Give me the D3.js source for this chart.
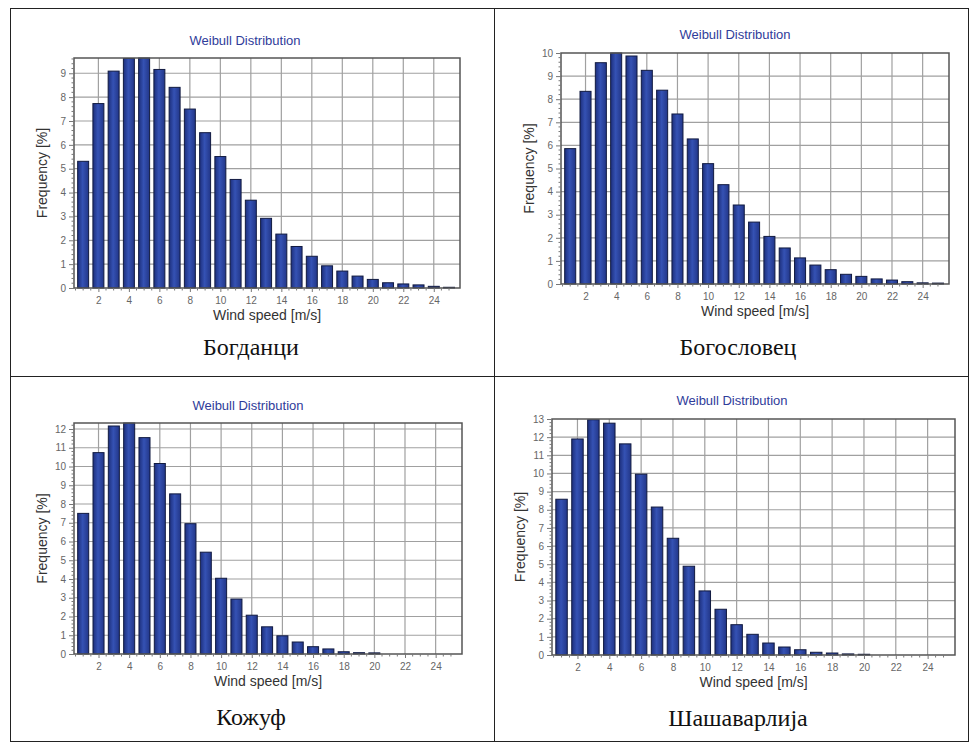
<!DOCTYPE html>
<html>
<head>
<meta charset="utf-8">
<script src="https://cdn.jsdelivr.net/npm/d3@7"></script>
<style>
  body { margin: 0; background: #fff; }
  svg { display: block; }
</style>
</head>
<body>
<div id="vis"></div>
<script>
// Declare constants for frame
const FRAME_WIDTH = 970;
const FRAME_HEIGHT = 742;

// wind speed classes (m/s)
const SPEEDS = [1, 2, 3, 4, 5, 6, 7, 8, 9, 10, 11, 12, 13, 14, 15, 16, 17, 18, 19, 20, 21, 22, 23, 24, 25];

// frequency [%] per station
const BOGDANCI = [5.31, 7.73, 9.09, 9.62, 9.64, 9.16, 8.41, 7.50, 6.51, 5.51, 4.55, 3.68, 2.92, 2.26, 1.74, 1.33, 0.93, 0.71, 0.50, 0.36, 0.22, 0.17, 0.13, 0.07, 0.03];
const BOGOSLOVEC = [5.86, 8.34, 9.58, 10.0, 9.87, 9.25, 8.39, 7.36, 6.28, 5.21, 4.30, 3.42, 2.68, 2.06, 1.56, 1.13, 0.82, 0.62, 0.42, 0.33, 0.22, 0.17, 0.10, 0.05, 0.04];
const KOZHUF = [7.50, 10.74, 12.16, 12.32, 11.54, 10.16, 8.54, 6.95, 5.43, 4.04, 2.93, 2.07, 1.45, 0.97, 0.64, 0.39, 0.27, 0.12, 0.07, 0.06, 0, 0, 0, 0, 0];
const SHASHAVARLIJA = [8.58, 11.90, 12.96, 12.77, 11.63, 9.96, 8.15, 6.43, 4.89, 3.53, 2.52, 1.67, 1.14, 0.66, 0.44, 0.29, 0.15, 0.11, 0.06, 0.04, 0, 0, 0, 0, 0];

const STATIONS = ["Богданци", "Богословец", "Кожуф", "Шашаварлија"];
const SERIES = [BOGDANCI, BOGOSLOVEC, KOZHUF, SHASHAVARLIJA];
const X_TICKS = [2, 4, 6, 8, 10, 12, 14, 16, 18, 20, 22, 24];
const Y_MAX = [9.64, 10, 12.32, 13];

// where each chart sits inside the table
const PANELS = [
  {left: 74,  right: 460, top: 58,  bottom: 288, titleX: 245, titleY: 45,  nameX: 251, nameY: 355},
  {left: 561, right: 949, top: 53,  bottom: 284, titleX: 735, titleY: 39,  nameX: 738, nameY: 355},
  {left: 74,  right: 462, top: 423, bottom: 654, titleX: 248, titleY: 410, nameX: 251, nameY: 725},
  {left: 552, right: 955, top: 419, bottom: 655, titleX: 732, titleY: 405, nameX: 738, nameY: 726}
];

const SANS = "Liberation Sans, Arial, sans-serif";

const FRAME = d3.select("#vis")
  .append("svg")
    .attr("width", FRAME_WIDTH)
    .attr("height", FRAME_HEIGHT);

// bar gradient for the 3D look
const grad = FRAME.append("defs").append("linearGradient")
    .attr("id", "barFill")
    .attr("x1", "0%").attr("x2", "100%");
grad.append("stop").attr("offset", "0%").attr("stop-color", "#1d2f7c");
grad.append("stop").attr("offset", "45%").attr("stop-color", "#3552b4");
grad.append("stop").attr("offset", "100%").attr("stop-color", "#223688");

// table lines
FRAME.append("rect")
    .attr("x", 10.5).attr("y", 8.5)
    .attr("width", 958).attr("height", 733)
    .attr("fill", "none").attr("stroke", "#222").attr("stroke-width", 1);
FRAME.append("line")
    .attr("x1", 494.5).attr("x2", 494.5).attr("y1", 8).attr("y2", 742)
    .attr("stroke", "#222");
FRAME.append("line")
    .attr("x1", 10).attr("x2", 969).attr("y1", 376.5).attr("y2", 376.5)
    .attr("stroke", "#222");

PANELS.forEach((p, i) => {
  const data = SPEEDS.map((s, k) => ({speed: s, freq: SERIES[i][k]}));

  const X_SCALE = d3.scaleLinear()
      .domain([0.4, 25.72])
      .range([p.left, p.right]);
  const Y_SCALE = d3.scaleLinear()
      .domain([0, Y_MAX[i]])
      .range([p.bottom, p.top]);

  const yTicks = d3.range(0, Math.floor(Y_MAX[i]) + 1);
  const g = FRAME.append("g");

  // plot background
  g.append("rect")
      .attr("x", p.left).attr("y", p.top)
      .attr("width", p.right - p.left).attr("height", p.bottom - p.top)
      .attr("fill", "#fff");

  // grid lines
  g.append("g").selectAll("line")
    .data(yTicks.filter(t => t > 0 && Y_SCALE(t) > p.top + 0.5))
    .enter().append("line")
      .attr("x1", p.left).attr("x2", p.right)
      .attr("y1", d => Y_SCALE(d)).attr("y2", d => Y_SCALE(d))
      .attr("stroke", "#a0a0a0").attr("stroke-width", 1.2);
  g.append("g").selectAll("line")
    .data(X_TICKS)
    .enter().append("line")
      .attr("x1", d => X_SCALE(d)).attr("x2", d => X_SCALE(d))
      .attr("y1", p.top).attr("y2", p.bottom)
      .attr("stroke", "#a0a0a0").attr("stroke-width", 1.2);

  // bars
  const bw = (X_SCALE(1) - X_SCALE(0)) * 0.72;
  g.append("g").selectAll("rect")
    .data(data.filter(d => d.freq > 0))
    .enter().append("rect")
      .attr("x", d => X_SCALE(d.speed) - bw / 2)
      .attr("y", d => Y_SCALE(d.freq))
      .attr("width", bw)
      .attr("height", d => p.bottom - Y_SCALE(d.freq))
      .attr("fill", "url(#barFill)")
      .attr("stroke", "#111a40")
      .attr("stroke-width", 1);

  // plot border
  g.append("rect")
      .attr("x", p.left).attr("y", p.top)
      .attr("width", p.right - p.left).attr("height", p.bottom - p.top)
      .attr("fill", "none").attr("stroke", "#555").attr("stroke-width", 1.5);

  // x axis
  const xAxis = g.append("g")
      .attr("transform", "translate(0," + p.bottom + ")")
      .call(d3.axisBottom(X_SCALE).tickValues(X_TICKS).tickSize(4).tickPadding(5).tickFormat(d3.format("d")));
  xAxis.append("g").selectAll("line")
    .data(d3.range(1, 51).map(v => v / 2).filter(v => X_TICKS.indexOf(v) < 0))
    .enter().append("line")
      .attr("x1", d => X_SCALE(d)).attr("x2", d => X_SCALE(d))
      .attr("y1", 0).attr("y2", 2.5)
      .attr("stroke", "#777");

  // y axis
  const yAxis = g.append("g")
      .attr("transform", "translate(" + p.left + ",0)")
      .call(d3.axisLeft(Y_SCALE).tickValues(yTicks).tickSize(5).tickPadding(3).tickFormat(d3.format("d")));
  yAxis.append("g").selectAll("line")
    .data(d3.range(0, Math.floor(Y_MAX[i] * 5) + 1).map(v => v / 5).filter(v => Math.abs(v - Math.round(v)) > 0.01))
    .enter().append("line")
      .attr("x1", -2.5).attr("x2", 0)
      .attr("y1", d => Y_SCALE(d)).attr("y2", d => Y_SCALE(d))
      .attr("stroke", "#777");

  [xAxis, yAxis].forEach(a => {
    a.select(".domain").remove();
    a.selectAll(".tick line").attr("stroke", "#777");
    a.selectAll(".tick text")
      .attr("fill", "#666")
      .attr("font-family", SANS)
      .attr("font-size", "10px");
  });

  // title
  g.append("text")
      .attr("x", p.titleX).attr("y", p.titleY)
      .attr("text-anchor", "middle")
      .attr("font-family", SANS)
      .attr("font-size", "13px")
      .attr("fill", "#2f3c9a")
      .text("Weibull Distribution");

  // axis labels
  g.append("text")
      .attr("x", (p.left + p.right) / 2).attr("y", p.bottom + 32)
      .attr("text-anchor", "middle")
      .attr("font-family", SANS)
      .attr("font-size", "14px")
      .attr("fill", "#333")
      .text("Wind speed [m/s]");
  g.append("text")
      .attr("transform", "translate(" + (p.left - 27) + "," + ((p.top + p.bottom) / 2) + ") rotate(-90)")
      .attr("text-anchor", "middle")
      .attr("font-family", SANS)
      .attr("font-size", "14px")
      .attr("fill", "#333")
      .text("Frequency [%]");

  // station name
  g.append("text")
      .attr("x", p.nameX).attr("y", p.nameY)
      .attr("text-anchor", "middle")
      .attr("font-family", "Liberation Serif, Times New Roman, serif")
      .attr("font-size", "24px")
      .attr("fill", "#111")
      .text(STATIONS[i]);
});
</script>
</body>
</html>
